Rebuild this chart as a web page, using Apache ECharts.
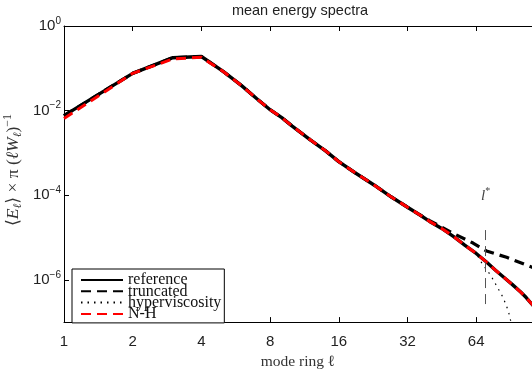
<!DOCTYPE html>
<html><head><meta charset="utf-8">
<script src="https://cdn.jsdelivr.net/npm/echarts@6/dist/echarts.min.js"></script>
<style>html,body{margin:0;padding:0;background:#fff}#c{width:532px;height:375px}</style>
</head><body><div id="c"></div>
<script>
// ---- data ----
const TITLE = 'mean energy spectra';
const X_TICKS = [1, 2, 4, 8, 16, 32, 64];
const Y_TICKS = [1e-6, 1e-4, 1e-2, 1];
const X_MAX = 112.4;   // right edge of the (cropped) picture

const L_REF = [1, 2, 3, 4, 5, 6, 7, 8, 9, 10, 12, 14, 16, 19, 23, 27, 32, 36, 40, 45, 51, 57, 64, 71, 78, 85, 92, 100, 106, 112, 120, 128];
const E_REF = [7.6e-3, 0.076, 0.178, 0.19, 0.083, 0.039, 0.019, 0.0105, 6.8e-3, 4.3e-3, 2.04e-3, 1.12e-3, 6.2e-4, 3.3e-4, 1.7e-4, 9.3e-5, 5.2e-5, 3.5e-5, 2.4e-5, 1.66e-5, 1.05e-5, 6.6e-6, 4.2e-6, 2.63e-6, 1.66e-6, 1.12e-6, 7.8e-7, 5.2e-7, 3.8e-7, 2.7e-7, 1.8e-7, 1.2e-7];

const L_TRUNC = [1, 2, 3, 4, 5, 6, 7, 8, 9, 10, 12, 14, 16, 19, 23, 27, 32, 36, 40, 44, 52, 62, 71, 87, 107, 112, 128];
const E_TRUNC = [7.6e-3, 0.076, 0.178, 0.19, 0.083, 0.039, 0.019, 0.0105, 6.8e-3, 4.3e-3, 2.04e-3, 1.12e-3, 6.2e-4, 3.3e-4, 1.7e-4, 9.3e-5, 5.2e-5, 3.5e-5, 2.5e-5, 1.9e-5, 1.17e-5, 7.4e-6, 4.8e-6, 3.4e-6, 2.2e-6, 2.0e-6, 1.5e-6];

const L_HYPER = [1, 2, 3, 4, 5, 6, 7, 8, 9, 10, 12, 14, 16, 19, 23, 27, 32, 36, 40, 45, 51, 57, 64, 68, 74, 79, 84, 88, 90, 92];
const E_HYPER = [7.6e-3, 0.076, 0.178, 0.19, 0.083, 0.039, 0.019, 0.0105, 6.8e-3, 4.3e-3, 2.04e-3, 1.12e-3, 6.2e-4, 3.3e-4, 1.7e-4, 9.3e-5, 5.2e-5, 3.5e-5, 2.4e-5, 1.66e-5, 1.05e-5, 6.6e-6, 4.2e-6, 2.4e-6, 1.29e-6, 6.9e-7, 3.8e-7, 2.0e-7, 1.3e-7, 7e-8];

const L_NH = [1, 2, 3, 4, 5, 6, 7, 8, 9, 10, 12, 14, 16, 19, 23, 27, 32, 36, 40, 45, 51, 57, 64, 71, 78, 85, 92, 100, 106, 112, 120, 128];
const E_NH = [6.5e-3, 0.076, 0.166, 0.182, 0.083, 0.039, 0.019, 0.0105, 6.8e-3, 4.3e-3, 2.04e-3, 1.12e-3, 6.2e-4, 3.3e-4, 1.7e-4, 9.3e-5, 5.2e-5, 3.5e-5, 2.4e-5, 1.66e-5, 1.05e-5, 6.6e-6, 4.2e-6, 2.63e-6, 1.66e-6, 1.12e-6, 7.8e-7, 5.2e-7, 3.8e-7, 2.7e-7, 1.8e-7, 1.2e-7];

const L_STAR = 70.4;
const L_STAR_LINE = [1.5e-5, 2.45e-7];
const NAMES = ['reference', 'truncated', 'hyperviscosity', 'N-H'];
// -----------------------------------------------

const zip = (a, b) => a.map((v, i) => [v, b[i]]);
const SERIF = '"Liberation Serif", "DejaVu Serif", serif';
const SANS = '"Liberation Sans", Arial, sans-serif';

const chart = echarts.init(document.getElementById('c'), null, {renderer: 'canvas'});

const xAxisBase = {
  type: 'log', logBase: 2, min: 1, max: X_MAX,
  splitLine: {show: false},
  axisLine: {lineStyle: {color: '#000', width: 1}},
  axisTick: {inside: true, length: 5, lineStyle: {color: '#000'}, customValues: X_TICKS},
};

chart.setOption({
  animation: false,
  title: {
    text: TITLE, left: 300, top: 3, textAlign: 'center', padding: 0,
    textStyle: {fontFamily: SANS, fontSize: 14.5, fontWeight: 'normal', color: '#222'}
  },
  grid: {left: 64, top: 26, bottom: 43, right: 0, containLabel: false},
  xAxis: [
    Object.assign({}, xAxisBase, {
      position: 'bottom',
      name: 'mode ring ℓ', nameLocation: 'middle', nameGap: 28,
      nameTextStyle: {fontFamily: SERIF, fontSize: 15.5, color: '#333'},
      axisLabel: {
        margin: 12, fontFamily: SANS, fontSize: 15, color: '#222',
        customValues: X_TICKS,
        formatter: v => String(Math.round(v))
      }
    }),
    Object.assign({}, xAxisBase, {position: 'top', axisLabel: {show: false}})
  ],
  yAxis: {
    type: 'log', logBase: 10, min: 1e-7, max: 1,
    splitLine: {show: false},
    axisLine: {lineStyle: {color: '#000', width: 1}},
    axisTick: {inside: true, length: 5, lineStyle: {color: '#000'}, customValues: Y_TICKS},
    axisLabel: {
      margin: 3, color: '#222', customValues: Y_TICKS,
      formatter: v => {
        const e = Math.round(Math.log10(v));
        return '{b|10}{s|' + (e < 0 ? '−' + (-e) : e) + '}';
      },
      rich: {
        b: {fontFamily: SANS, fontSize: 15, color: '#222', lineHeight: 20, verticalAlign: 'middle'},
        s: {fontFamily: SANS, fontSize: 10, color: '#222', verticalAlign: 'top'}
      }
    }
  },
  legend: {
    orient: 'vertical', left: 72, top: 269,
    padding: [3, 3, 1, 8], itemGap: -4.7,
    itemWidth: 42, itemHeight: 12,
    borderColor: '#000', borderWidth: 1, backgroundColor: '#fff',
    itemStyle: {opacity: 0},
    data: NAMES,
    textStyle: {fontFamily: SERIF, fontSize: 16, color: '#111', padding: [0, 0, 0, 0]}
  },
  graphic: [{
    type: 'text', x: 13, y: 170, rotation: Math.PI / 2,
    style: {
      text: '{a|⟨}{i|E}{s|ℓ}{a|⟩ × π (}{i|ℓW}{s|ℓ}{a|)}{p|−1}',
      align: 'center', verticalAlign: 'middle',
      rich: {
        a: {fontFamily: SERIF, fontSize: 17.5, fill: '#333', lineHeight: 22, verticalAlign: 'middle'},
        i: {fontFamily: SERIF, fontSize: 17.5, fontStyle: 'italic', fill: '#333', lineHeight: 22, verticalAlign: 'middle'},
        s: {fontFamily: SERIF, fontSize: 11.5, fontStyle: 'italic', fill: '#333', verticalAlign: 'bottom'},
        p: {fontFamily: SERIF, fontSize: 12, fill: '#333', verticalAlign: 'top'}
      }
    }
  }],
  series: [
    {
      name: NAMES[0], type: 'line', data: zip(L_REF, E_REF), symbol: 'none',
      lineStyle: {color: '#000', width: 3.4, type: 'solid'}, itemStyle: {color: '#000'},
      markLine: {
        silent: true, symbol: ['none', 'none'],
        lineStyle: {color: '#555', width: 1, type: [10, 6]},
        label: {
          show: true, position: 'start', distance: 24,
          formatter: '{i|l}{s|*}',
          rich: {
            i: {fontFamily: SERIF, fontSize: 15, fontStyle: 'italic', color: '#444', lineHeight: 20, verticalAlign: 'middle'},
            s: {fontFamily: SERIF, fontSize: 10, color: '#444', verticalAlign: 'top'}
          }
        },
        data: [[{coord: [L_STAR, L_STAR_LINE[0]]}, {coord: [L_STAR, L_STAR_LINE[1]]}]]
      }
    },
    {
      name: NAMES[1], type: 'line', data: zip(L_TRUNC, E_TRUNC), symbol: 'none',
      lineStyle: {color: '#000', width: 3.2, type: [10, 6]}, itemStyle: {color: '#000'}
    },
    {
      name: NAMES[2], type: 'line', data: zip(L_HYPER, E_HYPER), symbol: 'none',
      lineStyle: {color: '#000', width: 1.2, type: [1.5, 5]}, itemStyle: {color: '#000'}
    },
    {
      name: NAMES[3], type: 'line', data: zip(L_NH, E_NH), symbol: 'none',
      lineStyle: {color: '#ff0000', width: 3, type: [10, 6]}, itemStyle: {color: '#ff0000'}
    }
  ]
});
</script></body></html>
